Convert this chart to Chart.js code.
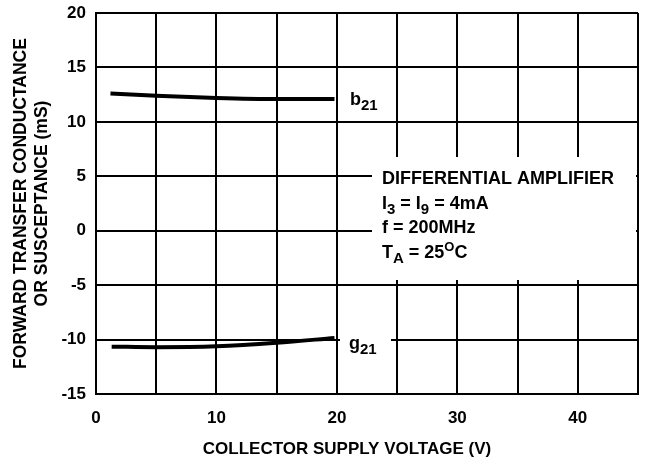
<!DOCTYPE html>
<html>
<head>
<meta charset="utf-8">
<script src="https://cdn.jsdelivr.net/npm/chart.js@4"></script>
<style>
  body { margin: 0; background: #fff; }
  canvas { display: block; }
</style>
</head>
<body>
<canvas id="chart" width="646" height="461"></canvas>
<script>
        // collector supply voltage (V) and curve values (mS)
        const bVoltage = [1.2, 5, 10, 15, 19.8];
        const b21Values = [12.6, 12.4, 12.2, 12.1, 12.1];
        const gVoltage = [1.3, 5, 10, 15, 19.8];
        const g21Values = [-10.65, -10.7, -10.62, -10.3, -9.85];

        const xTickLabels = ['0', '10', '20', '30', '40'];
        const yTickLabels = ['-15', '-10', '-5', '0', '5', '10', '15', '20'];

        const FONT = '"Liberation Sans", Arial, sans-serif';

        function toPoints(xs, ys) {
            return xs.map((x, i) => ({ x: x, y: ys[i] }));
        }

        // draws text runs with optional sub/superscript
        function drawRuns(ctx, x, y, runs, size) {
            runs.forEach(r => {
                let fs = size, dy = 0;
                if (r.sub) { fs = size - 3; dy = 5; }
                if (r.sup) { fs = size - 5; dy = -7; }
                ctx.font = 'bold ' + fs + 'px ' + FONT;
                ctx.fillText(r.t, x, y + dy);
                x += ctx.measureText(r.t).width;
            });
        }

        const notes = {
            id: 'notes',
            afterDraw(chart) {
                const ctx = chart.ctx;
                ctx.save();
                ctx.fillStyle = '#fff';
                ctx.fillRect(372, 157, 264, 123);
                ctx.fillRect(340, 84, 55, 36);
                ctx.fillRect(340, 324, 51, 36);

                ctx.fillStyle = '#000';
                ctx.textBaseline = 'alphabetic';
                ctx.textAlign = 'left';
                drawRuns(ctx, 382, 184, [{ t: 'DIFFERENTIAL AMPLIFIER' }], 18);
                drawRuns(ctx, 382, 208.5, [{ t: 'I' }, { t: '3', sub: true }, { t: ' = I' }, { t: '9', sub: true }, { t: ' = 4mA' }], 18);
                drawRuns(ctx, 382, 233, [{ t: 'f = 200MHz' }], 18);
                drawRuns(ctx, 382, 258, [{ t: 'T' }, { t: 'A', sub: true }, { t: ' = 25' }, { t: 'O', sup: true }, { t: 'C' }], 18);

                drawRuns(ctx, 350, 105, [{ t: 'b' }, { t: '21', sub: true }], 18);
                drawRuns(ctx, 349, 349, [{ t: 'g' }, { t: '21', sub: true }], 18);

                // x axis title
                ctx.font = 'bold 17px ' + FONT;
                ctx.textAlign = 'center';
                ctx.textBaseline = 'middle';
                ctx.fillText('COLLECTOR SUPPLY VOLTAGE (V)', 347, 449);
                ctx.restore();
            }
        };

        const lineStyle = {
            borderColor: '#000',
            borderWidth: 4,
            pointRadius: 0,
            fill: false,
            tension: 0.4,
            cubicInterpolationMode: 'monotone'
        };

        new Chart(document.getElementById('chart'), {
            type: 'line',
            data: {
                datasets: [
                    Object.assign({ label: 'b21', data: toPoints(bVoltage, b21Values) }, lineStyle),
                    Object.assign({ label: 'g21', data: toPoints(gVoltage, g21Values) }, lineStyle)
                ]
            },
            options: {
                responsive: false,
                animation: false,
                devicePixelRatio: 1,
                layout: { padding: { top: 13, right: 8, left: 0, bottom: 0 } },
                plugins: { legend: { display: false }, tooltip: { enabled: false } },
                scales: {
                    x: {
                        type: 'linear',
                        min: 0,
                        max: 45,
                        afterFit: s => { s.height = 67; s.paddingLeft = 0; s.paddingRight = 0; },
                        ticks: {
                            stepSize: 5,
                            padding: 14,
                            color: '#000',
                            font: { family: FONT, size: 17, weight: 'bold' },
                            maxRotation: 0,
                            autoSkip: false,
                            callback: v => xTickLabels.includes(String(v)) ? String(v) : ''
                        },
                        grid: { color: '#000', lineWidth: 2, drawTicks: false },
                        border: { color: '#000', width: 2 }
                    },
                    y: {
                        min: -15,
                        max: 20,
                        afterFit: s => { s.width = 96; s.paddingTop = 0; s.paddingBottom = 0; },
                        ticks: {
                            stepSize: 5,
                            padding: 10,
                            color: '#000',
                            font: { family: FONT, size: 17, weight: 'bold' },
                            callback: v => yTickLabels.includes(String(v)) ? String(v) : ''
                        },
                        grid: { color: '#000', lineWidth: 2, drawTicks: false },
                        border: { color: '#000', width: 2 },
                        title: {
                            display: true,
                            text: ['FORWARD TRANSFER CONDUCTANCE', 'OR SUSCEPTANCE (mS)'],
                            color: '#000',
                            font: { family: FONT, size: 17.5, weight: 'bold', lineHeight: 1.2 },
                            padding: { top: 10.5, bottom: 0 }
                        }
                    }
                }
            },
            plugins: [notes]
        });
</script>
</body>
</html>
